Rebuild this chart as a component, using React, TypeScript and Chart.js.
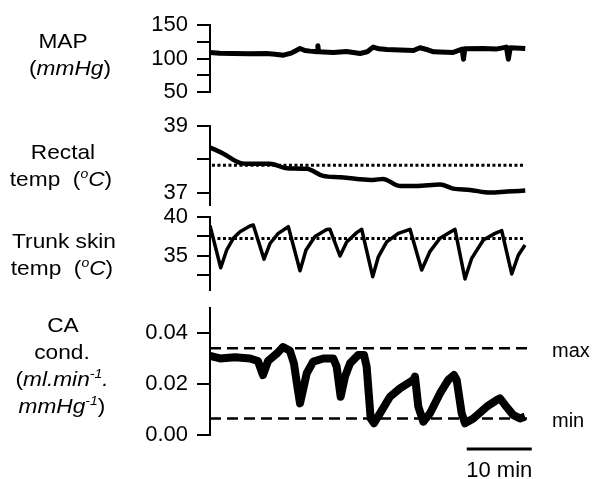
import React, { useEffect, useRef } from 'react';
import { Chart, registerables } from 'chart.js';
Chart.register(...registerables);

// time in minutes
const mapTime = [0, 1.5, 3.6, 6, 8.7, 10, 11.3, 12.5, 13.85, 14.6, 15.4, 16.5, 16.6, 16.7, 19, 21, 23.1, 24.2, 25.1, 26, 27.2, 31.3, 32.3, 33.5, 34.4, 37.4, 38.8, 39, 39.2, 42, 44, 45.6, 45.9, 46.2, 48.5];
const mapValues = [109, 108, 107.5, 107, 107.5, 106.5, 105, 108, 115, 112, 111, 110, 119, 110, 109, 110.5, 107.5, 110, 117, 114.5, 113.5, 112, 116, 113, 110, 109, 114, 99, 114.5, 115, 114, 117, 99, 116, 115];
const mapTicks = [50, 75, 100, 125, 150];
const mapLabeled = [50, 100, 150];

const rectalTime = [0, 2.0, 4.6, 6.15, 9.2, 11.8, 14.9, 17.4, 20.0, 22.6, 25.1, 26.6, 29.2, 31.8, 35.4, 37.4, 40.0, 43.1, 45.7, 48.5];
const rectalValues = [38.36, 38.18, 37.9, 37.87, 37.87, 37.74, 37.72, 37.51, 37.47, 37.42, 37.39, 37.42, 37.21, 37.21, 37.25, 37.13, 37.09, 37.01, 37.04, 37.07];
const rectalRef = 37.83;
const rectalTicks = [37, 38, 39];
const rectalLabeled = [37, 39];

const trunkTime = [0, 1.65, 2.57, 3.58, 4.62, 6.15, 6.66, 8.31, 9.23, 10.5, 12.05, 13.85, 14.77, 16.15, 17.95, 18.46, 20.0, 21.03, 22.57, 23.34, 25.03, 25.9, 27.18, 28.97, 30.77, 32.57, 33.85, 35.38, 37.69, 39.23, 40.26, 42.05, 43.85, 44.88, 46.42, 47.43, 48.46];
const trunkValues = [38.9, 33.5, 35.77, 37.27, 38.12, 38.85, 38.97, 34.6, 36.6, 37.9, 38.76, 33.1, 35.77, 37.5, 38.4, 38.42, 35.0, 36.8, 38.0, 38.42, 32.35, 34.9, 36.8, 37.9, 38.42, 33.2, 35.6, 37.27, 38.42, 32.05, 34.7, 37.05, 37.9, 38.25, 32.7, 35.1, 36.4];
const trunkRef = 37.24;
const trunkTicks = [32.5, 35, 37.5, 40];
const trunkLabeled = [35, 40];

const caTime = [0, 1.54, 3.85, 6.15, 7.38, 8.15, 8.92, 10.3, 11.23, 12.3, 12.92, 13.38, 13.85, 14.88, 15.89, 17.43, 18.97, 19.49, 20.1, 20.77, 21.54, 22.82, 23.69, 24.1, 24.72, 25.23, 26.15, 27.69, 29.23, 31.28, 31.54, 32.05, 32.82, 33.85, 35.38, 36.66, 37.54, 37.95, 38.72, 39.23, 40.51, 42.57, 44.1, 44.62, 45.38, 46.66, 47.69, 48.46];
const caValues = [0.031, 0.030, 0.0305, 0.030, 0.029, 0.0235, 0.029, 0.032, 0.0345, 0.033, 0.028, 0.020, 0.0124, 0.0242, 0.0288, 0.030, 0.030, 0.0268, 0.015, 0.0229, 0.0281, 0.0314, 0.0314, 0.0268, 0.0065, 0.0046, 0.0085, 0.015, 0.0183, 0.0216, 0.0229, 0.0111, 0.0052, 0.0085, 0.0163, 0.0216, 0.0235, 0.0216, 0.0085, 0.0046, 0.0065, 0.0111, 0.0137, 0.0144, 0.0118, 0.0078, 0.0065, 0.0072];
const caMax = 0.034;
const caMin = 0.0065;
const caTicks = [0, 0.02, 0.04];
const scaleBarStart = 39.5;
const scaleBarEnd = 49.5;
const scaleBarLabel = '10 min';

const LABEL_FONT = '"Liberation Sans", Arial, Helvetica, sans-serif';
const TICK_FONT = { family: LABEL_FONT, size: 22 };

function pts(t: number[], v: number[]) {
  return t.map((x, i) => ({ x, y: v[i] }));
}

function yScale(min: number, max: number, ticks: number[], label: (v: number) => string) {
  return {
    min,
    max,
    afterFit: (s: any) => { s.width = 200; },
    afterBuildTicks: (s: any) => { s.ticks = ticks.map((value) => ({ value })); },
    grid: { drawOnChartArea: false, drawTicks: true, tickLength: 13, lineWidth: 2, color: '#000' },
    border: { display: true, width: 2, color: '#000' },
    ticks: { autoSkip: false, padding: 9, color: '#000', font: TICK_FONT, callback: (v: any) => label(Number(v)) },
  };
}

function baseOptions(y: any) {
  return {
    responsive: false,
    animation: false as const,
    layout: { padding: { top: 30, bottom: 30, left: 10, right: 57 } },
    plugins: { legend: { display: false }, tooltip: { enabled: false } },
    scales: {
      x: { type: 'linear' as const, min: 0, max: 50, display: false },
      y,
    },
  };
}

const line = (data: any, width: number, extra: any = {}) => ({
  data,
  borderColor: '#000',
  borderWidth: width,
  pointRadius: 0,
  tension: 0,
  fill: false,
  borderJoinStyle: 'round' as const,
  ...extra,
});

const textPlugin = {
  id: 'caText',
  afterDraw(chart: any) {
    const ctx = chart.ctx;
    const x = chart.scales.x;
    const y = chart.scales.y;
    ctx.save();
    ctx.fillStyle = '#000';
    ctx.font = `20px ${LABEL_FONT}`;
    ctx.textAlign = 'left';
    ctx.textBaseline = 'alphabetic';
    ctx.fillText('max', chart.chartArea.right + 17, y.getPixelForValue(caMax) + 9);
    ctx.fillText('min', chart.chartArea.right + 17, y.getPixelForValue(caMin) + 9);
    ctx.font = `22px ${LABEL_FONT}`;
    ctx.textAlign = 'center';
    ctx.fillText(scaleBarLabel, x.getPixelForValue((scaleBarStart + scaleBarEnd) / 2), y.getPixelForValue(-0.0055) + 28);
    ctx.restore();
  },
};

const Label = ({ cx, base, children }: { cx: number; base: number; children: any }) => (
  <div style={{ position: 'absolute', left: cx - 100, width: 200, top: base - 21, lineHeight: '27px', fontSize: 21, fontFamily: LABEL_FONT, textAlign: 'center', whiteSpace: 'pre', color: '#000', transform: 'scaleX(1.08)', transformOrigin: 'center' }}>{children}</div>
);
const Sup = ({ children }: { children: any }) => (
  <span style={{ fontSize: 13, position: 'relative', top: -8 }}>{children}</span>
);

export default function App() {
  const r1 = useRef<HTMLCanvasElement>(null);
  const r2 = useRef<HTMLCanvasElement>(null);
  const r3 = useRef<HTMLCanvasElement>(null);
  const r4 = useRef<HTMLCanvasElement>(null);

  useEffect(() => {
    const charts: Chart[] = [];
    charts.push(new Chart(r1.current!, {
      type: 'line',
      data: { datasets: [line(pts(mapTime, mapValues), 5)] },
      options: baseOptions(yScale(50, 150, mapTicks, (v) => (mapLabeled.includes(v) ? String(v) : ''))) as any,
    }));
    charts.push(new Chart(r2.current!, {
      type: 'line',
      data: {
        datasets: [
          line([{ x: 0.3, y: rectalRef }, { x: 48.5, y: rectalRef }], 3, { borderDash: [3, 2.5] }),
          line(pts(rectalTime, rectalValues), 4.5, { cubicInterpolationMode: 'monotone' }),
        ],
      },
      options: baseOptions(yScale(36.64, 39, rectalTicks, (v) => (rectalLabeled.includes(v) ? String(v) : ''))) as any,
    }));
    charts.push(new Chart(r3.current!, {
      type: 'line',
      data: {
        datasets: [
          line([{ x: 0.3, y: trunkRef }, { x: 48.5, y: trunkRef }], 3, { borderDash: [3, 2.5] }),
          line(pts(trunkTime, trunkValues), 3.5),
        ],
      },
      options: baseOptions(yScale(30.64, 40, trunkTicks, (v) => (trunkLabeled.includes(v) ? String(v) : ''))) as any,
    }));
    const caOpts: any = baseOptions(yScale(0, 0.0498, caTicks, (v) => v.toFixed(2)));
    caOpts.layout.padding.bottom = 50;
    charts.push(new Chart(r4.current!, {
      type: 'line',
      data: {
        datasets: [
          line([{ x: 0, y: caMax }, { x: 49.7, y: caMax }], 2.5, { borderDash: [11, 6], borderJoinStyle: 'miter' }),
          line([{ x: 0, y: caMin }, { x: 49.7, y: caMin }], 2.5, { borderDash: [11, 6], borderJoinStyle: 'miter' }),
          line(pts(caTime, caValues), 8),
          line([{ x: scaleBarStart, y: -0.0055 }, { x: scaleBarEnd, y: -0.0055 }], 3, { clip: false }),
        ],
      },
      options: caOpts,
      plugins: [textPlugin],
    }));
    return () => charts.forEach((c) => c.destroy());
  }, []);

  // canvas top = desired chart-area top - layout padding top (30)
  return (
    <div style={{ position: 'absolute', left: 0, top: 0, width: 592, height: 479, background: '#fff', overflow: 'hidden' }}>
      <canvas ref={r1} width={592} height={127} style={{ position: 'absolute', left: 0, top: -5 }} />
      <canvas ref={r2} width={592} height={139} style={{ position: 'absolute', left: 0, top: 96 }} />
      <canvas ref={r3} width={592} height={133} style={{ position: 'absolute', left: 0, top: 187 }} />
      <canvas ref={r4} width={592} height={207} style={{ position: 'absolute', left: 0, top: 278 }} />
      <Label cx={63} base={48}>MAP</Label>
      <Label cx={70} base={75}>(<i>mmHg</i>)</Label>
      <Label cx={63} base={159}>Rectal</Label>
      <Label cx={61} base={186}>{'temp  ('}<Sup><i>o</i></Sup><i>C</i>)</Label>
      <Label cx={64} base={248}>Trunk skin</Label>
      <Label cx={62} base={275}>{'temp  ('}<Sup><i>o</i></Sup><i>C</i>)</Label>
      <Label cx={63} base={332}>CA</Label>
      <Label cx={62} base={359}>cond.</Label>
      <Label cx={62} base={386}>(<i>ml.min<Sup>-1</Sup>.</i></Label>
      <Label cx={62} base={413}><i>mmHg<Sup>-1</Sup></i>)</Label>
    </div>
  );
}
